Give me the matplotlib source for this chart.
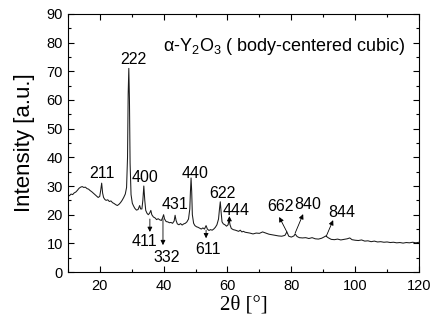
import matplotlib
matplotlib.use("Agg")
import matplotlib.pyplot as plt
from matplotlib.ticker import MultipleLocator

plt.rcParams["font.family"] = ["Liberation Sans", "DejaVu Sans"]
plt.rcParams["mathtext.fontset"] = "custom"
plt.rcParams["mathtext.rm"] = "Liberation Sans"

# ==== XRD pattern ====
two_theta = [
    10, 10.5, 11, 11.5, 12, 12.5, 13, 13.5, 14, 14.5, 15, 15.5, 16, 16.5, 17,
    17.5, 18, 18.5, 19, 19.5, 20, 20.3, 20.6, 20.9, 21.2, 21.6, 22, 22.5, 23,
    23.5, 24, 24.5, 25, 25.5, 26, 26.5, 27, 27.5, 28, 28.4, 28.7, 28.9, 29.1,
    29.3, 29.5, 29.8, 30.2, 30.6, 31, 31.5, 32, 32.5, 32.8, 33.2, 33.5, 33.8,
    34.1, 34.4, 34.8, 35.2, 35.6, 36.0, 36.3, 36.8, 37.3, 37.8, 38.3, 38.8,
    39.3, 39.7, 40.0, 40.3, 40.8, 41.3, 41.8, 42.3, 42.8, 43.3, 43.6, 43.9,
    44.3, 44.8, 45.3, 45.8, 46.3, 46.8, 47.3, 47.8, 48.2, 48.4, 48.6, 48.8,
    49.0, 49.4, 49.8, 50.3, 50.8, 51.3, 51.8, 52.3, 52.8, 53.3, 53.7, 54.2,
    54.7, 55.2, 55.7, 56.2, 56.7, 57.2, 57.5, 57.75, 58.0, 58.3, 58.7, 59.2,
    59.7, 60.2, 60.5, 60.8, 61.2, 61.8, 62.5, 63.0, 63.5, 64.0, 64.5, 65.0,
    65.5, 66, 67, 68, 69, 70, 71, 72, 73, 74, 75, 76, 77, 78, 78.6, 79.2, 80,
    80.8, 81.2, 81.8, 82.5, 83.5, 84.5, 85.5, 86.5, 87.5, 88.5, 89.5, 90.2,
    90.8, 91.5, 92.5, 93.5, 94.5, 95.5, 96.5, 97.5, 98.3, 99, 100, 101, 102,
    103, 104, 105, 106, 107, 108, 109, 110, 111, 112, 113, 114, 115, 116, 117,
    118, 119, 120,
]
intensity = [
    27.0, 26.6, 27.2, 27.0, 27.6, 27.9, 28.5, 29.2, 29.6, 29.8, 29.5, 29.6,
    29.1, 28.9, 28.4, 28.0, 27.5, 27.0, 26.5, 26.0, 26.4, 28.5, 31.0, 27.5,
    26.0, 25.3, 25.0, 25.2, 24.6, 24.8, 24.2, 23.9, 23.5, 23.2, 23.6, 24.2,
    25.0, 26.0, 27.2, 29.5, 40.0, 62.0, 71.0, 60.0, 38.0, 27.0, 24.0, 23.0,
    22.2, 21.6, 21.8, 23.2, 22.0, 22.0, 25.0, 30.0, 25.0, 21.5, 20.5, 20.0,
    20.5, 21.5, 20.0, 19.2, 18.9, 18.3, 18.6, 18.2, 18.0, 19.0, 20.0, 18.5,
    17.6, 17.5, 17.2, 17.3, 17.0, 17.8, 19.8, 18.0, 16.8, 16.5, 16.9, 16.4,
    16.8, 17.0, 17.5, 18.5, 22.0, 28.0, 32.8, 28.0, 20.0, 17.0, 16.2, 15.8,
    15.6, 15.3, 15.0, 15.4, 15.0, 16.2, 15.0, 14.5, 14.8, 14.6, 15.0, 15.6,
    16.5, 18.5, 22.0, 24.5, 21.0, 17.5, 16.8, 16.5, 16.0, 16.5, 18.5, 16.5,
    15.2, 14.8, 14.6, 14.4, 14.2, 14.6, 14.0, 14.2, 13.9, 13.8, 13.6, 13.3,
    13.6, 13.5, 14.0, 13.6, 13.2, 13.0, 12.8, 12.6, 12.5, 12.8, 14.0, 12.5,
    12.2, 12.6, 13.3, 12.4, 12.0, 11.9, 12.0, 11.7, 12.0, 11.6, 11.5, 11.8,
    12.2, 12.6, 12.0, 11.4, 11.3, 11.5, 11.2, 11.4, 11.6, 11.9, 11.3, 11.1,
    11.0, 11.2, 10.8, 10.9, 10.6, 10.8, 10.5, 10.6, 10.4, 10.5, 10.3, 10.4,
    10.2, 10.3, 10.1, 10.3, 10.2, 10.4, 10.2, 10.4,
]

# ==== peak labels placed directly ====
plain_labels = ["211", "222", "400", "440", "431", "622"]
plain_x = [20.6, 30.4, 34.1, 49.8, 43.5, 58.5]
plain_y = [34.2, 74.0, 32.8, 34.5, 23.4, 27.5]

# ==== peak labels with arrows (text pos, arrow tail, arrow head) ====
arrow_labels = ["411", "332", "611", "444", "662", "840", "844"]
arrow_text_x = [34.1, 41.0, 54.0, 62.7, 76.5, 85.2, 95.9]
arrow_text_y = [10.8, 5.2, 7.7, 21.6, 22.7, 23.4, 20.6]
arrow_tail_x = [35.7, 39.8, 53.3, 60.6, 78.6, 81.2, 90.9]
arrow_tail_y = [18.5, 18.6, 14.6, 17.4, 14.0, 13.6, 12.4]
arrow_head_x = [35.7, 39.8, 53.3, 60.6, 76.2, 83.7, 93.1]
arrow_head_y = [14.0, 9.4, 11.8, 19.5, 19.2, 20.2, 18.1]

fig = plt.figure(figsize=(4.32, 3.22), dpi=100)
ax = fig.add_axes([0.157, 0.155, 0.813, 0.802])

ax.plot(two_theta, intensity, color="#1a1a1a", lw=0.75)

for t, x, y in zip(plain_labels, plain_x, plain_y):
    ax.text(x, y, t, fontsize=11.5, ha="center", va="center")

for i, t in enumerate(arrow_labels):
    ax.text(arrow_text_x[i], arrow_text_y[i], t, fontsize=11.5,
            ha="center", va="center")
    ax.annotate("", xy=(arrow_head_x[i], arrow_head_y[i]),
                xytext=(arrow_tail_x[i], arrow_tail_y[i]),
                arrowprops=dict(arrowstyle="-|>", lw=0.6, color="black",
                                mutation_scale=7, shrinkA=0, shrinkB=0))

ax.text(39.8, 78.5, "α-Y$\\mathrm{_2}$O$\\mathrm{_3}$ ( body-centered cubic)",
        fontsize=13, ha="left", va="center")

ax.set_xlim(10, 120)
ax.set_ylim(0, 90)
ax.xaxis.set_major_locator(MultipleLocator(20))
ax.xaxis.set_minor_locator(MultipleLocator(10))
ax.yaxis.set_major_locator(MultipleLocator(10))
ax.yaxis.set_minor_locator(MultipleLocator(5))
ax.tick_params(which="both", direction="in", top=True, right=True,
               labelsize=10.5, width=0.8)
ax.tick_params(which="major", length=4)
ax.tick_params(which="minor", length=2.5)
ax.tick_params(axis="x", pad=5)
for s in ax.spines.values():
    s.set_linewidth(0.8)

ax.set_ylabel("Intensity [a.u.]", fontsize=16, labelpad=8)
ax.set_xlabel("2θ [°]", fontsize=15, family=["Liberation Serif", "DejaVu Serif"],
              labelpad=2)

fig.savefig("out.png", dpi=100)
plt.close(fig)
